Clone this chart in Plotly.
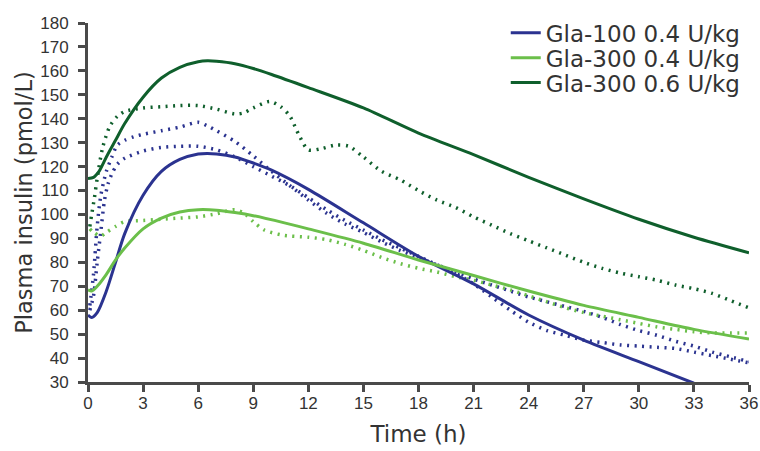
import plotly.graph_objects as go

# ---- data ----
x_ticks = [0, 3, 6, 9, 12, 15, 18, 21, 24, 27, 30, 33, 36]
y_ticks = [30, 40, 50, 60, 70, 80, 90, 100, 110, 120, 130, 140, 150, 160, 170, 180]

# Modelled (solid) curves
gla100_04_t = [0, 0.2, 0.5, 1, 1.5, 2, 3, 4, 5, 6, 6.5, 7, 8, 9, 10, 12, 15, 18, 21, 24, 27, 30, 33]
gla100_04_y = [58, 57, 59, 68, 80, 92, 108, 118, 123, 125.3, 125.5, 125.3, 124, 121.5, 118.5, 110.5, 96.5, 82.5, 71, 58, 47.5, 38.5, 29.5]

gla300_04_t = [0, 0.2, 0.5, 1, 1.5, 2, 3, 4, 5, 6, 7, 8, 9, 10.7, 12, 15, 18, 21, 24, 27, 30, 33, 36]
gla300_04_y = [68.5, 68, 70, 75, 81, 86, 94, 98.5, 101, 102, 101.8, 100.8, 99.5, 96.5, 94, 88, 81, 74.5, 68, 62, 57, 52, 48]

gla300_06_t = [0, 0.3, 0.6, 1, 1.5, 2, 3, 4, 5, 6, 6.5, 7, 8, 9, 10, 12, 15, 18, 21, 24, 27, 30, 33, 36]
gla300_06_y = [115, 115.5, 118, 124, 131, 138, 149, 157, 161.5, 163.8, 164.2, 164, 163, 161, 158.5, 153, 144.5, 134, 125, 115.5, 106.5, 98, 90.5, 84]

# Observed (dotted) curves
obs_a_t = [0.1, 0.3, 0.5, 0.7, 1, 1.3, 1.6, 2, 2.5, 3, 4, 5, 6, 6.5, 7, 8, 9, 10, 11, 12, 13, 14, 15, 16, 17, 18, 19, 20, 21, 22, 23, 24, 25, 26, 27, 28, 29, 30, 31, 32, 33, 34, 35, 36]
obs_a_y = [62, 75, 95, 108, 118, 124, 129, 131, 132.5, 133.5, 135, 136.5, 138.5, 137, 135, 130.5, 124.5, 118, 112, 106, 100.5, 96, 92.5, 88.5, 85, 82, 79, 76, 73, 70.5, 68, 65.5, 63.5, 61.5, 59.5, 57, 54, 51.5, 49.5, 47, 45, 42.5, 40.5, 38.5]

obs_b_t = [0.1, 0.3, 0.5, 0.7, 0.9, 1.1, 1.3, 1.6, 2, 3, 4, 5, 6, 7, 8, 9, 10, 11, 12, 13, 14, 15, 16, 17, 18, 19, 20, 21, 22, 23, 24, 25, 26, 27, 28, 29, 30, 31, 32, 33, 34, 35, 36]
obs_b_y = [60, 66, 80, 93, 106, 113, 117, 121, 123.5, 126.5, 128, 128.5, 128.5, 127, 124, 120, 116, 112, 107, 102, 97.5, 93.5, 89.5, 86, 82.5, 79, 75.5, 71, 65.5, 60, 55, 51.5, 49.5, 47.5, 46.5, 45.5, 45, 44.5, 44, 42.5, 41, 39.5, 38]

obs_c_t = [0.1, 0.3, 0.7, 1, 1.5, 2, 3, 4, 5, 6, 7, 8, 8.5, 9, 9.6, 10.5, 11, 12, 13, 14, 15, 16, 17, 18, 19, 20, 21, 22, 23, 24, 25, 26, 27, 28, 29, 30, 31, 32, 33, 34, 35, 36]
obs_c_y = [94, 92.5, 91, 92.5, 95, 97, 97.5, 98, 98.5, 99, 100.3, 102, 100.5, 97, 93.5, 91.5, 91, 90.5, 89.5, 87.5, 85, 82, 79.5, 77.5, 76, 74, 72.5, 70.5, 68.5, 66, 63.5, 61, 59, 57.5, 56, 54.5, 53, 52, 51, 50.5, 50.5, 50.5]

obs_d_t = [0.1, 0.2, 0.35, 0.5, 0.8, 1.2, 1.6, 2, 3, 4, 5, 6, 7, 8, 8.5, 9, 9.9, 10.5, 11, 11.5, 12, 12.7, 13.5, 14.2, 15, 16, 17, 18, 19, 20, 21, 22, 23, 24, 25, 26, 27, 28, 29, 30, 31, 32, 33, 34, 35, 36]
obs_d_y = [95, 100, 107, 115, 128, 137, 141, 143, 144.5, 145, 145.5, 145.5, 144, 142, 142.5, 144.5, 147.2, 145, 141, 133, 127, 127.5, 129, 128.5, 124, 118, 114.5, 110, 106, 103, 99, 95.5, 92, 89, 86, 83, 80, 77.5, 75.5, 74, 72.5, 70.5, 69, 67, 64, 61]

names = ["Gla-100 0.4 U/kg", "Gla-300 0.4 U/kg", "Gla-300 0.6 U/kg"]
BLUE = "#2B3390"
LGREEN = "#6BBF4A"
DGREEN = "#0F5F2C"

fig = go.Figure()

dot_dash = "2px,5.5px"
for t, y, c in [(obs_a_t, obs_a_y, BLUE), (obs_b_t, obs_b_y, BLUE),
                (obs_c_t, obs_c_y, LGREEN), (obs_d_t, obs_d_y, DGREEN)]:
    fig.add_trace(go.Scatter(x=t, y=y, mode="lines", showlegend=False,
                             line=dict(color=c, width=3.5, dash=dot_dash, shape="spline", smoothing=0.8)))

legend_ids = ["legend", "legend2", "legend3"]
for t, y, c, n, lg in [(gla100_04_t, gla100_04_y, BLUE, names[0], legend_ids[0]),
                       (gla300_04_t, gla300_04_y, LGREEN, names[1], legend_ids[1]),
                       (gla300_06_t, gla300_06_y, DGREEN, names[2], legend_ids[2])]:
    fig.add_trace(go.Scatter(x=t, y=y, mode="lines", name=n, legend=lg,
                             line=dict(color=c, width=3, shape="spline", smoothing=0.8)))

AX = "#4A4A4A"
TXT = "#333333"
TITLE_FONT = "DejaVu Sans, Liberation Sans, Arial, sans-serif"
TICK_FONT = "Liberation Sans, Arial, sans-serif"

def legend_box(ypos):
    return dict(x=0.632, y=ypos, xanchor="left", yanchor="middle",
                font=dict(family=TITLE_FONT, size=23, color=TXT),
                bgcolor="rgba(0,0,0,0)", itemwidth=30)

fig.update_layout(
    width=760, height=451,
    margin=dict(l=88, r=11, t=23, b=69, autoexpand=False),
    plot_bgcolor="white", paper_bgcolor="white",
    font=dict(family=TICK_FONT, color=TXT),
    legend=legend_box(0.973),
    legend2=legend_box(0.903),
    legend3=legend_box(0.834),
    xaxis=dict(range=[0, 36], tickvals=x_ticks, ticktext=[str(v) for v in x_ticks],
               showgrid=False, zeroline=False, showline=True, linecolor=AX, linewidth=3,
               ticks="outside", ticklen=7, tickwidth=3, tickcolor=AX, automargin=False,
               tickfont=dict(size=17, color=TXT), ticklabelstandoff=-3,
               title=dict(text="Time (h)", font=dict(family=TITLE_FONT, size=23, color=TXT), standoff=14)),
    yaxis=dict(range=[30, 180], tickvals=y_ticks, ticktext=[str(v) for v in y_ticks],
               showgrid=False, zeroline=False, showline=True, linecolor=AX, linewidth=3,
               ticks="outside", ticklen=7, tickwidth=3, tickcolor=AX, automargin=False,
               tickfont=dict(size=17, color=TXT), ticklabelstandoff=6,
               title=dict(text="Plasma insulin (pmol/L)", font=dict(family=TITLE_FONT, size=22.5, color=TXT), standoff=2)),
)

fig.write_html("out.html", config={"displayModeBar": False},
               post_script="document.body.style.margin='0';document.body.style.overflow='hidden';")
